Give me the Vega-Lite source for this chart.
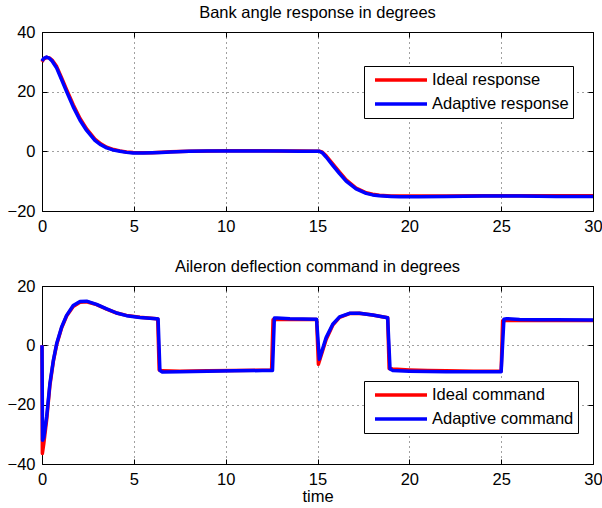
{
  "$schema": "https://vega.github.io/schema/vega-lite/v6.json",
  "padding": {"left": 6, "top": 4, "right": 0, "bottom": 0},
  "spacing": 23,
  "resolve": {"scale": {"color": "independent"}, "legend": {"color": "independent"}},
  "config": {
    "font": "Liberation Sans",
    "view": {"stroke": "#000", "strokeWidth": 1},
    "title": {"fontSize": 16.5, "fontWeight": "normal", "color": "#000", "offset": 3},
    "axis": {"labelFontSize": 16.5, "labelColor": "#000", "tickColor": "#000", "tickSize": -5, "domain": false, "labelFlush": false, "titleFontSize": 16.5, "titleFontWeight": "normal", "titleColor": "#000"},
    "legend": {"orient": "none", "strokeColor": "#000", "fillColor": "#fff", "padding": 4, "symbolType": "stroke", "symbolSize": 2704, "symbolStrokeWidth": 3.5, "clipHeight": 20, "rowPadding": 4, "labelFontSize": 16.5, "labelOffset": 3, "symbolOffset": 5, "labelColor": "#000", "cornerRadius": 0}
  },
  "datasets": {
    "bank": [
      {"s": "Ideal response", "t": 0, "v": 30.0}, {"s": "Ideal response", "t": 0.1, "v": 31.0}, {"s": "Ideal response", "t": 0.25, "v": 31.5}, {"s": "Ideal response", "t": 0.4, "v": 31.3}, {"s": "Ideal response", "t": 0.55, "v": 30.6}, {"s": "Ideal response", "t": 0.8, "v": 28.4}, {"s": "Ideal response", "t": 1.07, "v": 24.6}, {"s": "Ideal response", "t": 1.34, "v": 20.7}, {"s": "Ideal response", "t": 1.7, "v": 15.6}, {"s": "Ideal response", "t": 2.07, "v": 11.0}, {"s": "Ideal response", "t": 2.43, "v": 7.5}, {"s": "Ideal response", "t": 2.88, "v": 4.1}, {"s": "Ideal response", "t": 3.2, "v": 2.5}, {"s": "Ideal response", "t": 3.52, "v": 1.4}, {"s": "Ideal response", "t": 3.9, "v": 0.6}, {"s": "Ideal response", "t": 4.24, "v": 0.15}, {"s": "Ideal response", "t": 4.6, "v": -0.2}, {"s": "Ideal response", "t": 4.96, "v": -0.4}, {"s": "Ideal response", "t": 5.5, "v": -0.5}, {"s": "Ideal response", "t": 6.0, "v": -0.45}, {"s": "Ideal response", "t": 6.5, "v": -0.3}, {"s": "Ideal response", "t": 7, "v": -0.15}, {"s": "Ideal response", "t": 8, "v": 0.05}, {"s": "Ideal response", "t": 9, "v": 0.15}, {"s": "Ideal response", "t": 10, "v": 0.2}, {"s": "Ideal response", "t": 11, "v": 0.2}, {"s": "Ideal response", "t": 12, "v": 0.2}, {"s": "Ideal response", "t": 13, "v": 0.15}, {"s": "Ideal response", "t": 14, "v": 0.1}, {"s": "Ideal response", "t": 15.1, "v": 0.05}, {"s": "Ideal response", "t": 15.25, "v": -0.2}, {"s": "Ideal response", "t": 15.47, "v": -1.5}, {"s": "Ideal response", "t": 15.83, "v": -4.2}, {"s": "Ideal response", "t": 16.2, "v": -7.0}, {"s": "Ideal response", "t": 16.56, "v": -9.6}, {"s": "Ideal response", "t": 17.1, "v": -12.3}, {"s": "Ideal response", "t": 17.65, "v": -13.9}, {"s": "Ideal response", "t": 18.0, "v": -14.4}, {"s": "Ideal response", "t": 18.37, "v": -14.75}, {"s": "Ideal response", "t": 19.0, "v": -14.95}, {"s": "Ideal response", "t": 19.5, "v": -15.0}, {"s": "Ideal response", "t": 20.5, "v": -15.0}, {"s": "Ideal response", "t": 22, "v": -14.95}, {"s": "Ideal response", "t": 24, "v": -14.9}, {"s": "Ideal response", "t": 26, "v": -14.9}, {"s": "Ideal response", "t": 28, "v": -14.9}, {"s": "Ideal response", "t": 30, "v": -14.9},
      {"s": "Adaptive response", "t": 0, "v": 30.3}, {"s": "Adaptive response", "t": 0.1, "v": 31.2}, {"s": "Adaptive response", "t": 0.25, "v": 31.6}, {"s": "Adaptive response", "t": 0.4, "v": 31.2}, {"s": "Adaptive response", "t": 0.55, "v": 30.3}, {"s": "Adaptive response", "t": 0.8, "v": 27.9}, {"s": "Adaptive response", "t": 1.07, "v": 24.0}, {"s": "Adaptive response", "t": 1.34, "v": 20.0}, {"s": "Adaptive response", "t": 1.7, "v": 14.9}, {"s": "Adaptive response", "t": 2.07, "v": 10.4}, {"s": "Adaptive response", "t": 2.43, "v": 7.0}, {"s": "Adaptive response", "t": 2.88, "v": 3.7}, {"s": "Adaptive response", "t": 3.2, "v": 2.2}, {"s": "Adaptive response", "t": 3.52, "v": 1.15}, {"s": "Adaptive response", "t": 3.9, "v": 0.4}, {"s": "Adaptive response", "t": 4.24, "v": 0.0}, {"s": "Adaptive response", "t": 4.6, "v": -0.35}, {"s": "Adaptive response", "t": 4.96, "v": -0.55}, {"s": "Adaptive response", "t": 5.5, "v": -0.6}, {"s": "Adaptive response", "t": 6.0, "v": -0.5}, {"s": "Adaptive response", "t": 6.5, "v": -0.35}, {"s": "Adaptive response", "t": 7, "v": -0.2}, {"s": "Adaptive response", "t": 8, "v": 0.0}, {"s": "Adaptive response", "t": 9, "v": 0.1}, {"s": "Adaptive response", "t": 10, "v": 0.15}, {"s": "Adaptive response", "t": 11, "v": 0.15}, {"s": "Adaptive response", "t": 12, "v": 0.15}, {"s": "Adaptive response", "t": 13, "v": 0.1}, {"s": "Adaptive response", "t": 14, "v": 0.05}, {"s": "Adaptive response", "t": 15.1, "v": 0.0}, {"s": "Adaptive response", "t": 15.25, "v": -0.4}, {"s": "Adaptive response", "t": 15.47, "v": -1.9}, {"s": "Adaptive response", "t": 15.83, "v": -4.7}, {"s": "Adaptive response", "t": 16.2, "v": -7.5}, {"s": "Adaptive response", "t": 16.56, "v": -10.0}, {"s": "Adaptive response", "t": 17.1, "v": -12.6}, {"s": "Adaptive response", "t": 17.65, "v": -14.1}, {"s": "Adaptive response", "t": 18.0, "v": -14.6}, {"s": "Adaptive response", "t": 18.37, "v": -14.9}, {"s": "Adaptive response", "t": 19.0, "v": -15.1}, {"s": "Adaptive response", "t": 19.5, "v": -15.2}, {"s": "Adaptive response", "t": 20.5, "v": -15.2}, {"s": "Adaptive response", "t": 22, "v": -15.1}, {"s": "Adaptive response", "t": 24, "v": -15.0}, {"s": "Adaptive response", "t": 25, "v": -14.95}, {"s": "Adaptive response", "t": 26, "v": -15.0}, {"s": "Adaptive response", "t": 27, "v": -15.05}, {"s": "Adaptive response", "t": 28, "v": -15.1}, {"s": "Adaptive response", "t": 30, "v": -15.1}
    ],
    "aileron": [
      {"s": "Ideal command", "t": 0, "v": 0}, {"s": "Ideal command", "t": 0.02, "v": -36.5}, {"s": "Ideal command", "t": 0.1, "v": -33}, {"s": "Ideal command", "t": 0.255, "v": -25}, {"s": "Ideal command", "t": 0.43, "v": -13.5}, {"s": "Ideal command", "t": 0.62, "v": -5.3}, {"s": "Ideal command", "t": 0.8, "v": 0.3}, {"s": "Ideal command", "t": 1.07, "v": 5.9}, {"s": "Ideal command", "t": 1.34, "v": 9.9}, {"s": "Ideal command", "t": 1.7, "v": 13.1}, {"s": "Ideal command", "t": 2.07, "v": 14.5}, {"s": "Ideal command", "t": 2.43, "v": 14.7}, {"s": "Ideal command", "t": 2.97, "v": 13.7}, {"s": "Ideal command", "t": 3.52, "v": 12.2}, {"s": "Ideal command", "t": 4.06, "v": 10.9}, {"s": "Ideal command", "t": 4.6, "v": 10.1}, {"s": "Ideal command", "t": 5.33, "v": 9.5}, {"s": "Ideal command", "t": 6.23, "v": 9.0}, {"s": "Ideal command", "t": 6.3, "v": 8.9}, {"s": "Ideal command", "t": 6.38, "v": -8.3}, {"s": "Ideal command", "t": 6.55, "v": -8.6}, {"s": "Ideal command", "t": 7.5, "v": -8.7}, {"s": "Ideal command", "t": 9, "v": -8.6}, {"s": "Ideal command", "t": 10.5, "v": -8.5}, {"s": "Ideal command", "t": 12, "v": -8.4}, {"s": "Ideal command", "t": 12.5, "v": -8.4}, {"s": "Ideal command", "t": 12.58, "v": 8.6}, {"s": "Ideal command", "t": 12.8, "v": 8.7}, {"s": "Ideal command", "t": 13.5, "v": 8.7}, {"s": "Ideal command", "t": 14.2, "v": 8.7}, {"s": "Ideal command", "t": 14.95, "v": 8.7}, {"s": "Ideal command", "t": 15.05, "v": -6.4}, {"s": "Ideal command", "t": 15.47, "v": 2.0}, {"s": "Ideal command", "t": 15.83, "v": 6.8}, {"s": "Ideal command", "t": 16.2, "v": 9.4}, {"s": "Ideal command", "t": 16.74, "v": 10.7}, {"s": "Ideal command", "t": 17.28, "v": 10.8}, {"s": "Ideal command", "t": 18.0, "v": 10.2}, {"s": "Ideal command", "t": 18.82, "v": 9.3}, {"s": "Ideal command", "t": 18.9, "v": -7.8}, {"s": "Ideal command", "t": 19.1, "v": -8.0}, {"s": "Ideal command", "t": 20, "v": -8.3}, {"s": "Ideal command", "t": 21, "v": -8.5}, {"s": "Ideal command", "t": 22, "v": -8.6}, {"s": "Ideal command", "t": 23.5, "v": -8.7}, {"s": "Ideal command", "t": 25.0, "v": -8.7}, {"s": "Ideal command", "t": 25.08, "v": 8.3}, {"s": "Ideal command", "t": 25.3, "v": 8.4}, {"s": "Ideal command", "t": 26, "v": 8.4}, {"s": "Ideal command", "t": 28, "v": 8.4}, {"s": "Ideal command", "t": 30, "v": 8.4},
      {"s": "Adaptive command", "t": 0, "v": 0}, {"s": "Adaptive command", "t": 0.03, "v": -32}, {"s": "Adaptive command", "t": 0.1, "v": -31}, {"s": "Adaptive command", "t": 0.255, "v": -24.0}, {"s": "Adaptive command", "t": 0.43, "v": -12.9}, {"s": "Adaptive command", "t": 0.62, "v": -5.0}, {"s": "Adaptive command", "t": 0.8, "v": 0.6}, {"s": "Adaptive command", "t": 1.07, "v": 6.2}, {"s": "Adaptive command", "t": 1.34, "v": 10.1}, {"s": "Adaptive command", "t": 1.7, "v": 13.4}, {"s": "Adaptive command", "t": 2.07, "v": 14.8}, {"s": "Adaptive command", "t": 2.43, "v": 14.9}, {"s": "Adaptive command", "t": 2.97, "v": 13.8}, {"s": "Adaptive command", "t": 3.52, "v": 12.3}, {"s": "Adaptive command", "t": 4.06, "v": 10.9}, {"s": "Adaptive command", "t": 4.6, "v": 10.0}, {"s": "Adaptive command", "t": 5.33, "v": 9.4}, {"s": "Adaptive command", "t": 6.23, "v": 9.0}, {"s": "Adaptive command", "t": 6.32, "v": 8.9}, {"s": "Adaptive command", "t": 6.42, "v": -8.5}, {"s": "Adaptive command", "t": 6.55, "v": -9.0}, {"s": "Adaptive command", "t": 7.5, "v": -8.9}, {"s": "Adaptive command", "t": 9, "v": -8.75}, {"s": "Adaptive command", "t": 10.5, "v": -8.6}, {"s": "Adaptive command", "t": 12, "v": -8.5}, {"s": "Adaptive command", "t": 12.55, "v": -8.45}, {"s": "Adaptive command", "t": 12.65, "v": 9.2}, {"s": "Adaptive command", "t": 12.8, "v": 9.2}, {"s": "Adaptive command", "t": 13.5, "v": 9.0}, {"s": "Adaptive command", "t": 14.2, "v": 8.9}, {"s": "Adaptive command", "t": 14.95, "v": 8.8}, {"s": "Adaptive command", "t": 15.1, "v": -4.7}, {"s": "Adaptive command", "t": 15.47, "v": 2.6}, {"s": "Adaptive command", "t": 15.83, "v": 7.1}, {"s": "Adaptive command", "t": 16.2, "v": 9.6}, {"s": "Adaptive command", "t": 16.74, "v": 10.8}, {"s": "Adaptive command", "t": 17.28, "v": 10.8}, {"s": "Adaptive command", "t": 18.0, "v": 10.2}, {"s": "Adaptive command", "t": 18.82, "v": 9.3}, {"s": "Adaptive command", "t": 18.95, "v": -8.0}, {"s": "Adaptive command", "t": 19.1, "v": -8.5}, {"s": "Adaptive command", "t": 20, "v": -8.7}, {"s": "Adaptive command", "t": 21, "v": -8.8}, {"s": "Adaptive command", "t": 22, "v": -8.9}, {"s": "Adaptive command", "t": 23.5, "v": -8.9}, {"s": "Adaptive command", "t": 25.0, "v": -8.9}, {"s": "Adaptive command", "t": 25.15, "v": 8.8}, {"s": "Adaptive command", "t": 25.3, "v": 9.0}, {"s": "Adaptive command", "t": 26, "v": 8.7}, {"s": "Adaptive command", "t": 27, "v": 8.6}, {"s": "Adaptive command", "t": 28, "v": 8.6}, {"s": "Adaptive command", "t": 30, "v": 8.5}
    ]
  },
  "vconcat": [
    {
      "width": 551,
      "height": 179,
      "title": "Bank angle response in degrees",
      "data": {"name": "bank"},
      "resolve": {"axis": {"x": "independent", "y": "independent"}},
      "layer": [
        {
          "transform": [{"filter": "datum.s === 'Ideal response'"}],
          "mark": {"type": "line", "strokeWidth": 3.5, "strokeJoin": "round"},
          "encoding": {
            "x": {"field": "t", "type": "quantitative", "scale": {"domain": [0, 30], "nice": false, "zero": false}, "axis": {"orient": "bottom", "values": [0, 5, 10, 15, 20, 25, 30], "labelPadding": 12, "grid": true, "gridDash": [1, 4], "gridColor": "#000", "gridOpacity": 0.75, "title": null}},
            "y": {"field": "v", "type": "quantitative", "scale": {"domain": [-20, 40], "nice": false, "zero": false}, "axis": {"orient": "left", "values": [-20, 0, 20, 40], "labelPadding": 12, "grid": true, "gridDash": [1, 4], "gridColor": "#000", "gridOpacity": 0.75, "title": null}},
            "color": {"field": "s", "type": "nominal", "scale": {"domain": ["Ideal response", "Adaptive response"], "range": ["#ff0000", "#0000ff"]}, "legend": {"title": null, "legendX": 322, "legendY": 34}}
          }
        },
        {
          "transform": [{"filter": "datum.s === 'Adaptive response'"}],
          "mark": {"type": "line", "strokeWidth": 3.5, "strokeJoin": "round"},
          "encoding": {
            "x": {"field": "t", "type": "quantitative", "axis": null},
            "y": {"field": "v", "type": "quantitative", "axis": null},
            "color": {"field": "s", "type": "nominal", "scale": {"domain": ["Ideal response", "Adaptive response"], "range": ["#ff0000", "#0000ff"]}, "legend": {"title": null, "legendX": 322, "legendY": 34}}
          }
        },
        {
          "mark": {"type": "line", "opacity": 0},
          "encoding": {
            "x": {"field": "t", "type": "quantitative", "axis": {"orient": "top", "values": [0, 5, 10, 15, 20, 25, 30], "labels": false, "grid": false, "title": null}},
            "y": {"field": "v", "type": "quantitative", "axis": {"orient": "right", "values": [-20, 0, 20, 40], "labels": false, "grid": false, "title": null}},
            "detail": {"field": "s"}
          }
        }
      ]
    },
    {
      "width": 551,
      "height": 178,
      "title": "Aileron deflection command in degrees",
      "data": {"name": "aileron"},
      "resolve": {"axis": {"x": "independent", "y": "independent"}},
      "layer": [
        {
          "transform": [{"filter": "datum.s === 'Ideal command'"}],
          "mark": {"type": "line", "strokeWidth": 3.5, "strokeJoin": "round"},
          "encoding": {
            "x": {"field": "t", "type": "quantitative", "scale": {"domain": [0, 30], "nice": false, "zero": false}, "axis": {"orient": "bottom", "values": [0, 5, 10, 15, 20, 25, 30], "labelPadding": 12, "grid": true, "gridDash": [1, 4], "gridColor": "#000", "gridOpacity": 0.75, "title": "time", "titlePadding": 1}},
            "y": {"field": "v", "type": "quantitative", "scale": {"domain": [-40, 20], "nice": false, "zero": false}, "axis": {"orient": "left", "values": [-40, -20, 0, 20], "labelPadding": 12, "grid": true, "gridDash": [1, 4], "gridColor": "#000", "gridOpacity": 0.75, "title": null}},
            "color": {"field": "s", "type": "nominal", "scale": {"domain": ["Ideal command", "Adaptive command"], "range": ["#ff0000", "#0000ff"]}, "legend": {"title": null, "legendX": 322, "legendY": 95}}
          }
        },
        {
          "transform": [{"filter": "datum.s === 'Adaptive command'"}],
          "mark": {"type": "line", "strokeWidth": 3.5, "strokeJoin": "round"},
          "encoding": {
            "x": {"field": "t", "type": "quantitative", "axis": null},
            "y": {"field": "v", "type": "quantitative", "axis": null},
            "color": {"field": "s", "type": "nominal", "scale": {"domain": ["Ideal command", "Adaptive command"], "range": ["#ff0000", "#0000ff"]}, "legend": {"title": null, "legendX": 322, "legendY": 95}}
          }
        },
        {
          "mark": {"type": "line", "opacity": 0},
          "encoding": {
            "x": {"field": "t", "type": "quantitative", "axis": {"orient": "top", "values": [0, 5, 10, 15, 20, 25, 30], "labels": false, "grid": false, "title": null}},
            "y": {"field": "v", "type": "quantitative", "axis": {"orient": "right", "values": [-40, -20, 0, 20], "labels": false, "grid": false, "title": null}},
            "detail": {"field": "s"}
          }
        }
      ]
    }
  ]
}
